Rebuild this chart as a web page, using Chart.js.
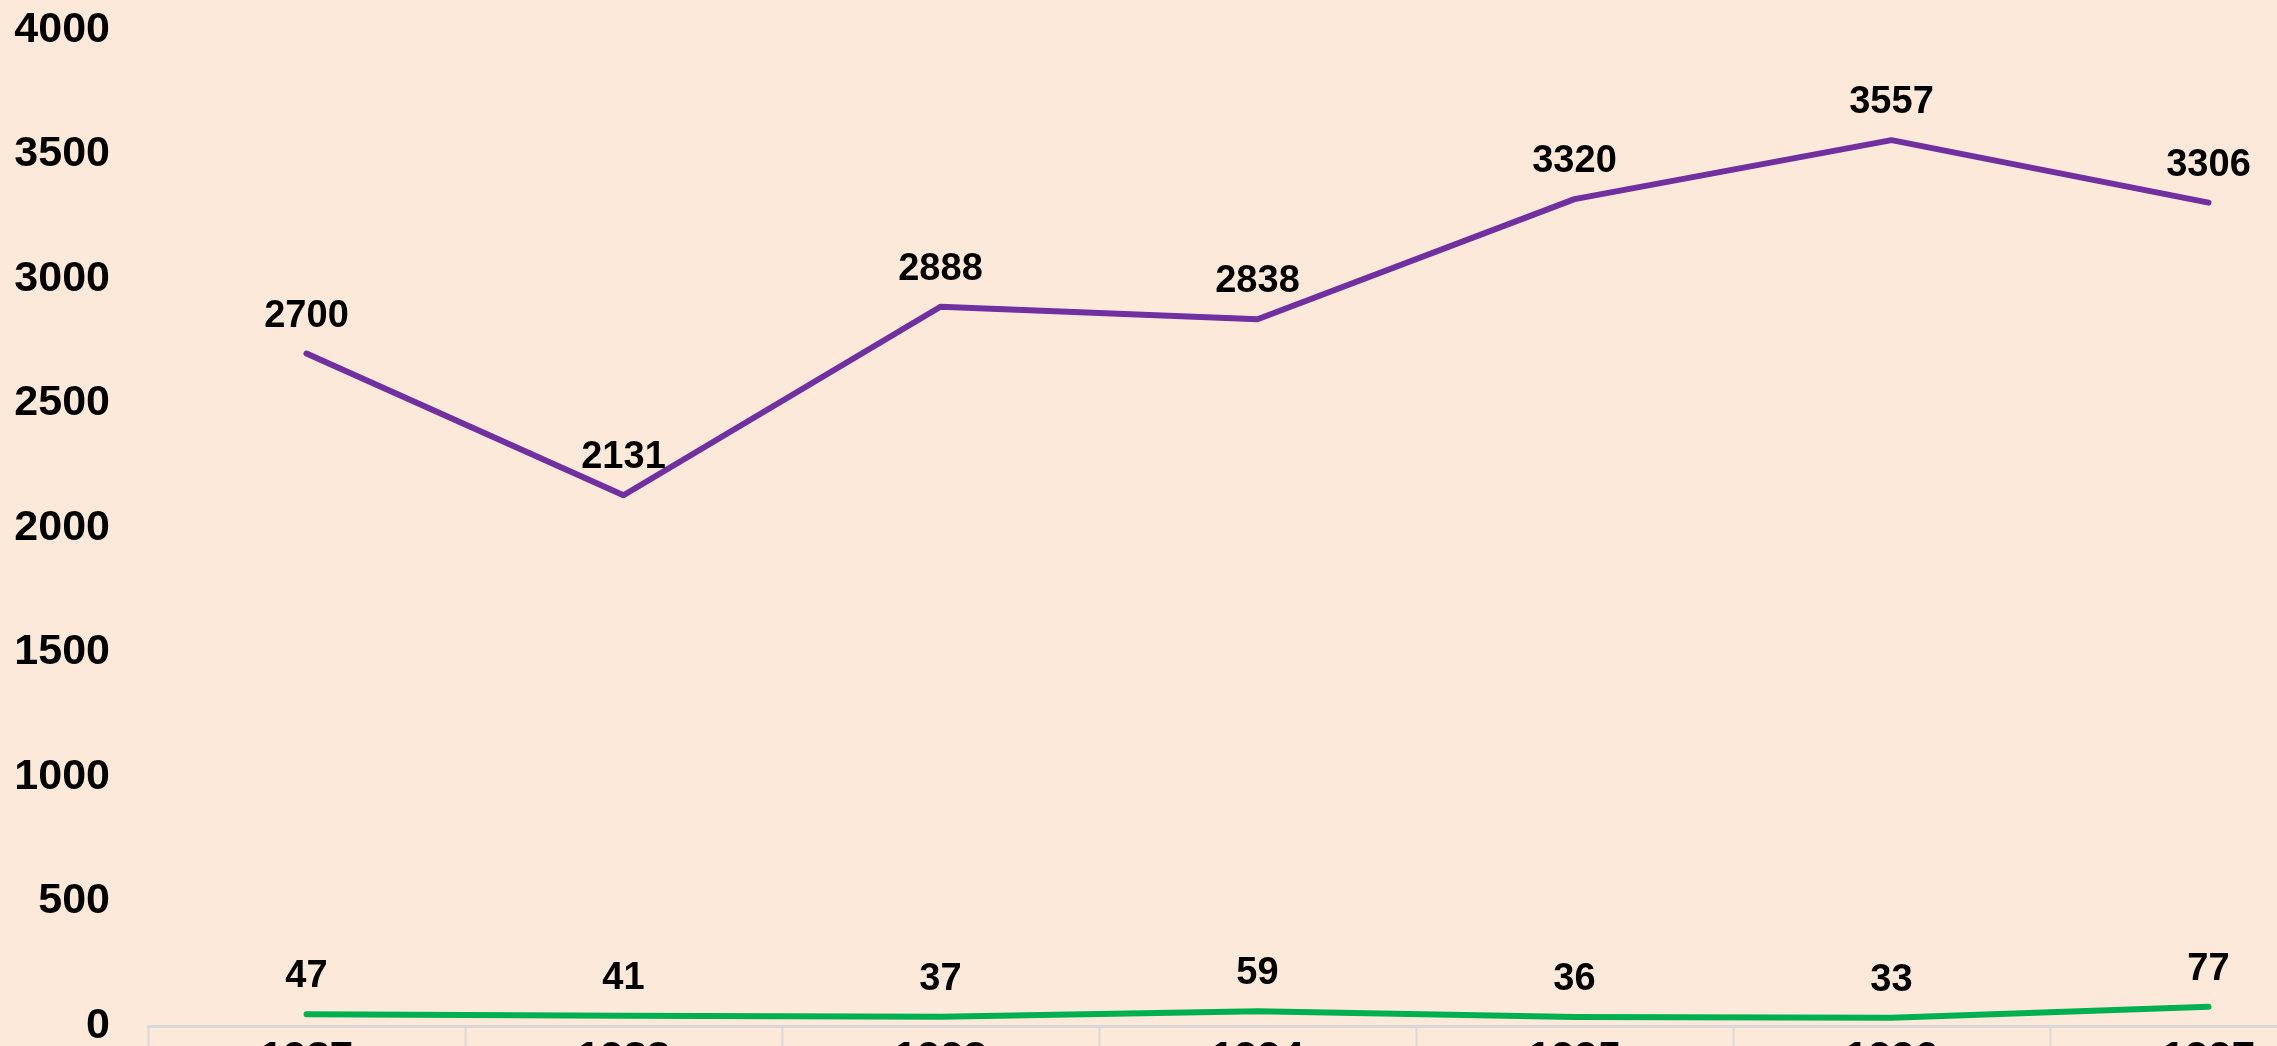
<!DOCTYPE html>
<html>
<head>
<meta charset="utf-8">
<script src="https://cdn.jsdelivr.net/npm/chart.js@4.4.1/dist/chart.umd.min.js"></script>
<style>
  html, body { margin: 0; padding: 0; background: #FDE9DA; overflow: hidden; }
  #wrap { position: absolute; left: 0; top: -34px; width: 2400px; height: 1134px; }
  canvas { display: block; background: #FDE9DA; }
</style>
</head>
<body>
<div id="wrap"><canvas id="c" width="2400" height="1134"></canvas></div>
<script>
const categories = ['1987', '1988', '1993', '1994', '1995', '1996', '1997'];
const purpleSeries = [2700, 2131, 2888, 2838, 3320, 3557, 3306];
const greenSeries = [47, 41, 37, 59, 36, 33, 77];
const yTicks = [0, 500, 1000, 1500, 2000, 2500, 3000, 3500, 4000];

const FONT = '"Liberation Sans", Arial, sans-serif';

const valueLabels = {
  id: 'valueLabels',
  afterDatasetsDraw(chart) {
    const ctx = chart.ctx;
    ctx.save();
    ctx.font = 'bold 38px ' + FONT;
    ctx.fillStyle = '#000000';
    ctx.textAlign = 'center';
    ctx.textBaseline = 'alphabetic';
    chart.data.datasets.forEach((ds, i) => {
      const meta = chart.getDatasetMeta(i);
      meta.data.forEach((pt, j) => {
        ctx.fillText(String(ds.data[j]), pt.x, pt.y - 27);
      });
    });
    ctx.restore();
  }
};

new Chart(document.getElementById('c'), {
  type: 'line',
  data: {
    labels: categories,
    datasets: [
      {
        label: 'Series 1',
        data: purpleSeries,
        borderColor: '#7030A0',
        backgroundColor: '#7030A0',
        borderWidth: 6,
        borderCapStyle: 'round',
        borderJoinStyle: 'round',
        pointRadius: 0,
        tension: 0
      },
      {
        label: 'Series 2',
        data: greenSeries,
        borderColor: '#00B050',
        backgroundColor: '#00B050',
        borderWidth: 6,
        borderCapStyle: 'round',
        borderJoinStyle: 'round',
        pointRadius: 0,
        tension: 0
      }
    ]
  },
  options: {
    responsive: false,
    animation: false,
    devicePixelRatio: 1,
    layout: { padding: { top: 26, left: 0, right: 33, bottom: 0 } },
    plugins: {
      legend: { display: false },
      tooltip: { enabled: false }
    },
    scales: {
      x: {
        offset: true,
        border: { display: true, color: '#D9D9D9', width: 3 },
        grid: {
          display: true,
          offset: true,
          drawOnChartArea: false,
          drawTicks: true,
          tickLength: 40,
          tickWidth: 2,
          color: '#D9D9D9'
        },
        ticks: {
          color: '#000000',
          font: { family: FONT, size: 42, weight: 'bold' },
          padding: -32,
          maxRotation: 0,
          autoSkip: false
        },
        afterFit(scale) { scale.height = 74; }
      },
      y: {
        min: 0,
        max: 4000,
        afterBuildTicks(scale) { scale.ticks = yTicks.map(v => ({ value: v })); },
        border: { display: false },
        grid: { display: false, drawTicks: false },
        ticks: {
          color: '#000000',
          font: { family: FONT, size: 43, weight: 'bold' },
          padding: 38,
          callback: (v) => String(v)
        },
        afterFit(scale) { scale.width = 148; }
      }
    }
  },
  plugins: [valueLabels]
});
</script>
</body>
</html>
